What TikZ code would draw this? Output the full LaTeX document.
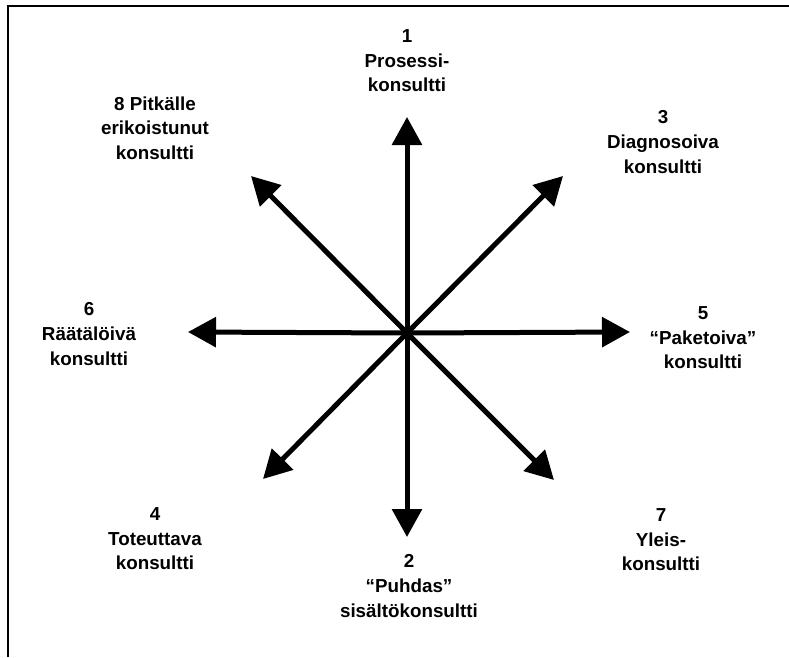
\documentclass[tikz,border=0pt]{standalone}
\usepackage{fontspec}
\setmainfont{Liberation Sans}
\usepackage{tikz}
\usetikzlibrary{arrows.meta,positioning}

\tikzset{
  kind/.style={inner sep=0.75pt,align=center,font=\fontsize{14.1pt}{18.4pt}\selectfont\bfseries},
  ray/.style={line width=3.75pt,-{Triangle[length=21pt,width=22pt]}}
}

\begin{document}
\begin{tikzpicture}[x=0.75pt,y=0.75pt,yscale=-1,xscale=1]
		\useasboundingbox (0,0) rectangle (789,657);
		% Frame
		\draw [line width=1.5pt]  (8,657) -- (8,6) -- (789,6) ;

		% Centre and arrow ends
		\coordinate (c) at (407,333);
		\coordinate (t1) at (407,117);
		\coordinate (t2) at (407,537);
		\coordinate (t3) at (563,176);
		\coordinate (t4) at (263,479);
		\coordinate (t5) at (630,332);
		\coordinate (t6) at (188,332);
		\coordinate (t7) at (554,480);
		\coordinate (t8) at (251,176);

		% Text Node
		\node [kind] (k1) at (407,61) {1\\Prosessi-\\konsultti};
		% Text Node
		\node [kind] (k2) at (409,586) {2\\“Puhdas”\\sisältökonsultti};
		% Text Node
		\node [kind] (k3) at (663,142) {3\\Diagnosoiva\\konsultti};
		% Text Node
		\node [kind] (k4) at (155,539) {4\\Toteuttava\\konsultti};
		% Text Node
		\node [kind] (k5) at (703,338) {5\\“Paketoiva”\\konsultti};
		% Text Node
		\node [kind] (k6) at (89,334) {6\\Räätälöivä\\konsultti};
		% Text Node
		\node [kind] (k7) at (661,540) {7\\Yleis-\\konsultti};
		% Text Node
		\node [kind] (k8) at (155,128) {8 Pitkälle\\erikoistunut\\konsultti};

		% Connection
		\draw [ray] (c) -- (t1) ;
		% Connection
		\draw [ray] (c) -- (t2) ;
		% Connection
		\draw [ray] (c) -- (t3) ;
		% Connection
		\draw [ray] (c) -- (t4) ;
		% Connection
		\draw [ray] (c) -- (t5) ;
		% Connection
		\draw [ray] (c) -- (t6) ;
		% Connection
		\draw [ray] (c) -- (t7) ;
		% Connection
		\draw [ray] (c) -- (t8) ;
\end{tikzpicture}
\end{document}
